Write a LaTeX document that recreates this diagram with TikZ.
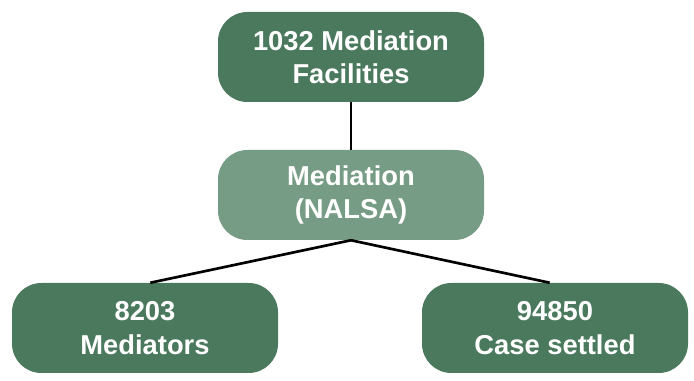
\documentclass[tikz,border=0pt]{standalone}
\usepackage{fontspec}
\setmainfont{Liberation Sans}
\definecolor{darkgreen}{RGB}{74,121,94}
\definecolor{lightgreen}{RGB}{119,156,133}
\begin{document}
\begin{tikzpicture}[x=0.75pt, y=-0.75pt,
    box/.style={rounded corners=22pt, minimum width=199.5pt, minimum height=67.5pt,
        text=white, font=\fontsize{20.5}{25}\selectfont\bfseries, align=center, inner sep=0pt},
    darkbox/.style={box, fill=darkgreen},
    lightbox/.style={box, fill=lightgreen},
    link/.style={line width=2pt, black}]
            \useasboundingbox (0,0) rectangle (694,381);

            % Kaesten
            \node[darkbox] (facilities) at (351,57) {1032 Mediation\\Facilities};
            \node[lightbox] (nalsa) at (351,195) {Mediation\\(NALSA)};
            \node[darkbox] (mediators) at (145,328) {8203\\Mediators};
            \node[darkbox] (settled) at (555,328) {94850\\Case settled};

            % Verbindungen
            \draw[link] (facilities.south) -- (nalsa.north);
            \draw[link] (nalsa.south) -- ([xshift=4pt]mediators.north);
            \draw[link] (nalsa.south) -- ([xshift=-4pt]settled.north);
        \end{tikzpicture}
\end{document}
